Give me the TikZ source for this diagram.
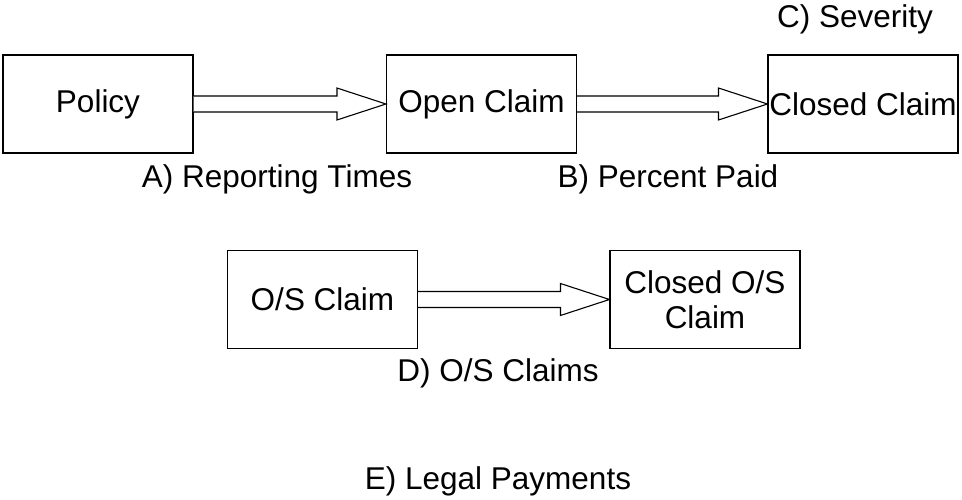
\documentclass[tikz,border=0pt]{standalone}
\usepackage{fontspec}
\setmainfont{Liberation Sans}
\usetikzlibrary{calc}
\begin{document}
\begin{tikzpicture}[x=1pt,y=-1pt,
  box/.style={draw,line width=1.1pt,minimum width=190pt,minimum height=98pt,inner sep=0pt,align=center,font=\fontsize{31.5}{35}\selectfont},
  lbl/.style={font=\fontsize{31.5}{35}\selectfont,inner sep=0pt},
  barrow/.style={draw,line width=1.1pt,fill=white}]
\useasboundingbox (0,0) rectangle (962,500);
\node[box] (pol) at (98,104) {Policy};
\node[box] (open) at (481.5,104) {Open Claim};
\node[box] (closed) at (863,104) {Closed Claim};
\node[box] (os) at (322.5,299.5) {O/S Claim};
\node[box] (cos) at (705,299.5) {Closed O/S\\Claim};
\newcommand{\blockarr}[2]{%
  \draw[barrow] ($(#1.east)+(0,-8)$) -- ($(#2.west)+(-49,-8)$) -- ($(#2.west)+(-49,-16)$) -- (#2.west)
   -- ($(#2.west)+(-49,16)$) -- ($(#2.west)+(-49,8)$) -- ($(#1.east)+(0,8)$);}
\blockarr{pol}{open}
\blockarr{open}{closed}
\blockarr{os}{cos}
\node[lbl] (la) at (277,179) {A) Reporting Times};
\node[lbl] (lb) at (668,179) {B) Percent Paid};
\node[lbl] (lc) at (855,19) {C) Severity};
\node[lbl] (ld) at (498,373) {D) O/S Claims};
\node[lbl] (le) at (498,481) {E) Legal Payments};
\end{tikzpicture}
\end{document}
